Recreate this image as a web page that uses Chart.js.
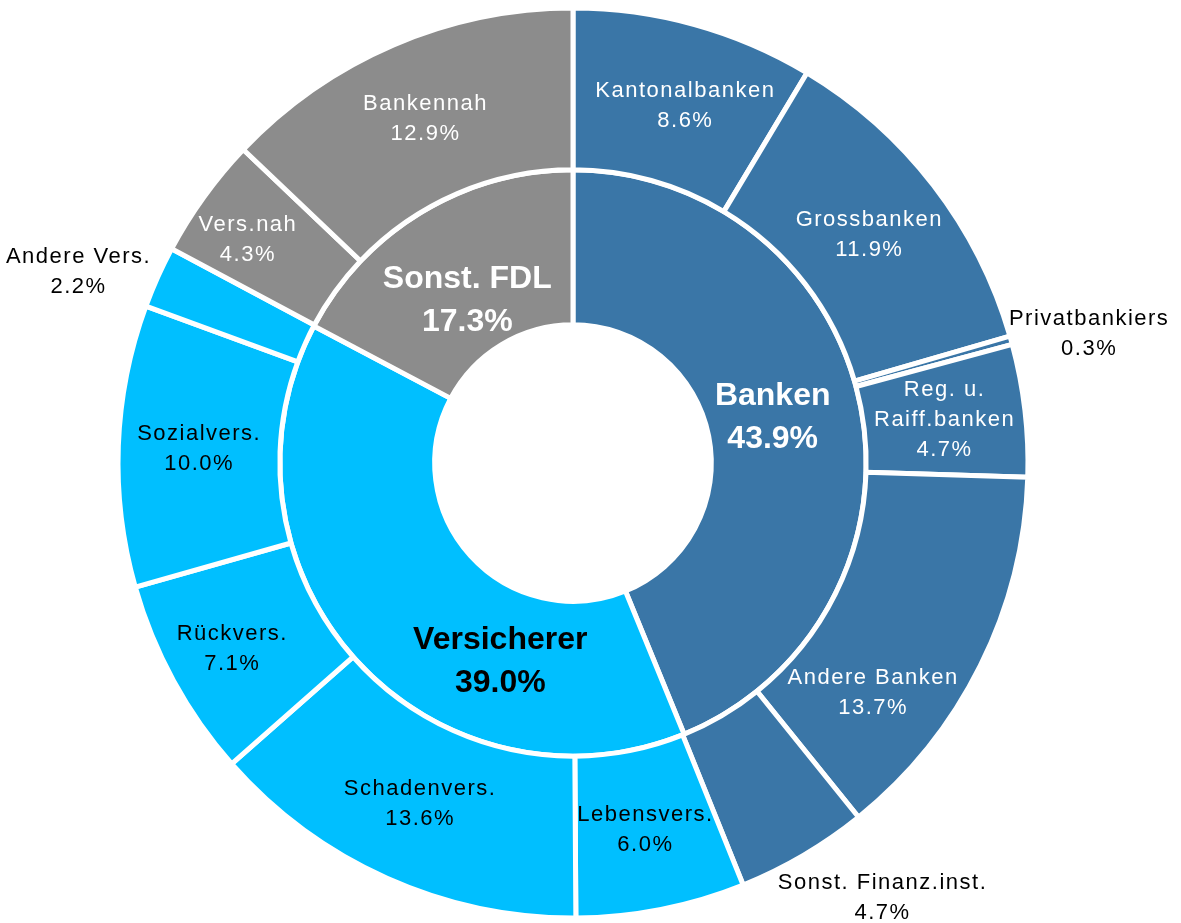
<!DOCTYPE html>
<html>
<head>
<meta charset="utf-8">
<script src="https://cdn.jsdelivr.net/npm/chart.js@4.4.0/dist/chart.umd.min.js"></script>
<style>
  body { margin: 0; background: #fff; }
  #wrap { width: 1181px; height: 923px; }
</style>
</head>
<body>
<div id="wrap"><canvas id="myChart" width="1181" height="923"></canvas></div>
<script>
const groupLabels = ['Banken', 'Versicherer', 'Sonst. FDL'];
const groupValues = [43.9, 39.0, 17.3];
const subLabels = ['Kantonalbanken', 'Grossbanken', 'Privatbankiers', 'Reg. u.\nRaiff.banken', 'Andere Banken',
  'Sonst. Finanz.inst.', 'Lebensvers.', 'Schadenvers.', 'Rückvers.', 'Sozialvers.', 'Andere Vers.', 'Vers.nah', 'Bankennah'];
const subValues = [8.6, 11.9, 0.3, 4.7, 13.7, 4.7, 6.0, 13.6, 7.1, 10.0, 2.2, 4.3, 12.9];
const subGroup = [0, 0, 0, 0, 0, 0, 1, 1, 1, 1, 1, 2, 2];

const groupColors = ['#3a76a7', '#00bfff', '#8c8c8c'];
const groupTextColors = ['#ffffff', '#000000', '#ffffff'];

// label tweaks: angle shift in degrees, radial shift in px, outside = black text
const subPlace = {
  'Kantonalbanken': {da: 2},
  'Privatbankiers': {da: 1.6, dr: 158, outside: true},
  'Andere Banken': {da: 11, dr: 4},
  'Sonst. Finanz.inst.': {da: -5, dr: 160, outside: true},
  'Rückvers.': {dr: 14},
  'Andere Vers.': {da: -3, dr: 156, outside: true},
  'Vers.nah': {da: -1.4, dr: 20}
};
const groupPlace = {
  'Banken': {da: -1.6, dr: -11},
  'Versicherer': {da: -27.7, dr: -4},
  'Sonst. FDL': {da: -2, dr: -22}
};

function fmt(v) { return v.toFixed(1) + '%'; }

const labelPlugin = {
  id: 'ringLabels',
  afterDraw(chart) {
    const ctx = chart.ctx;
    ctx.save();
    ctx.textAlign = 'center';
    ctx.textBaseline = 'middle';
    chart.data.datasets.forEach((ds, di) => {
      const meta = chart.getDatasetMeta(di);
      meta.data.forEach((arc, i) => {
        const p = arc.getProps(['x', 'y', 'startAngle', 'endAngle', 'innerRadius', 'outerRadius'], true);
        const name = ds.labels[i];
        const place = (ds.inner ? groupPlace : subPlace)[name] || {};
        const a = (p.startAngle + p.endAngle) / 2 + (place.da || 0) * Math.PI / 180;
        const r = (p.innerRadius + p.outerRadius) / 2 + (place.dr || 0);
        const x = p.x + r * Math.cos(a);
        const y = p.y + r * Math.sin(a);
        const lines = name.split('\n').concat([fmt(ds.data[i])]);
        let color;
        if (ds.inner) {
          color = groupTextColors[i];
          ctx.font = 'bold 32px "Liberation Sans", Arial, sans-serif';
          ctx.letterSpacing = '0px';
        } else {
          color = place.outside ? '#000000' : groupTextColors[subGroup[i]];
          ctx.font = '22px "Liberation Sans", Arial, sans-serif';
          ctx.letterSpacing = '1.5px';
        }
        const lh = ds.inner ? 43 : 30;
        ctx.fillStyle = color;
        const y0 = y - (lines.length - 1) * lh / 2;
        lines.forEach((t, k) => ctx.fillText(t, x, y0 + k * lh));
      });
    });
    ctx.restore();
  }
};

new Chart(document.getElementById('myChart'), {
  type: 'doughnut',
  data: {
    labels: subLabels,
    datasets: [{
      labels: subLabels,
      data: subValues,
      backgroundColor: subGroup.map(g => groupColors[g]),
      borderColor: '#ffffff',
      borderWidth: 5,
      weight: 162
    }, {
      labels: groupLabels,
      inner: true,
      data: groupValues,
      backgroundColor: groupColors,
      borderColor: '#ffffff',
      borderWidth: 5,
      weight: 155
    }]
  },
  options: {
    responsive: false,
    animation: false,
    radius: 455,
    cutout: '30.4%',
    layout: { padding: { left: 0, right: 35, top: 3, bottom: 0 } },
    plugins: {
      legend: { display: false },
      tooltip: { enabled: false }
    },
    hoverOffset: 0
  },
  plugins: [labelPlugin]
});
</script>
</body>
</html>
